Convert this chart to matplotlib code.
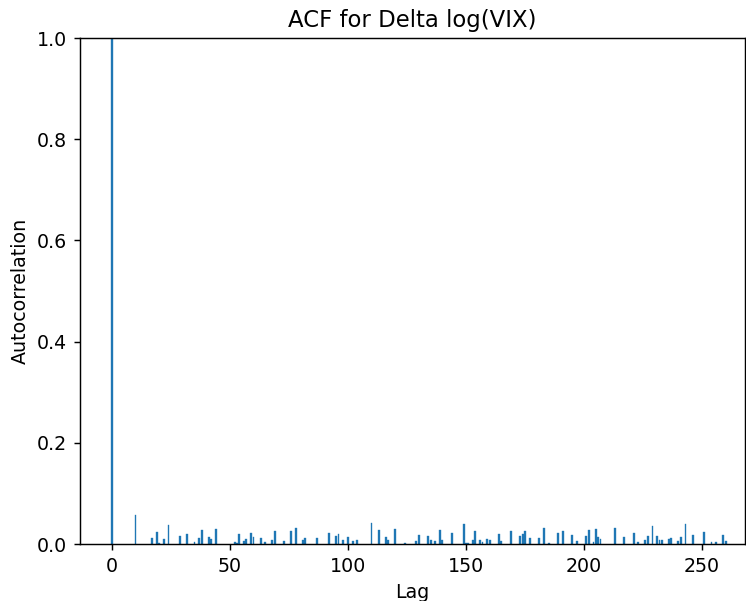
import numpy as np
import matplotlib
matplotlib.use('Agg')
import matplotlib.pyplot as plt

# ACF values (only the positive part is visible, ylim 0..1)
lags = [0, 10, 17, 19, 20, 22, 24, 29, 32, 35, 37, 38, 41, 42, 44,
        52, 53, 54, 56, 57, 59, 60, 63, 65, 68, 69, 73, 76, 78, 81, 82, 87,
        92, 95, 96, 98, 100, 102, 104, 110, 113, 116, 117, 120, 124, 129, 130,
        134, 135, 137, 139, 140, 144, 149, 150, 151, 153, 154, 156, 157, 159,
        160, 164, 165, 169, 173, 174, 175, 177, 181, 183, 185, 189, 191, 195,
        197, 201, 202, 204, 205, 206, 207, 213, 217, 221, 223, 226, 227, 229,
        231, 232, 233, 236, 237, 240, 241, 243, 246, 251, 254, 256, 259, 260]
acf = [1.0, 0.057, 0.012, 0.024, 0.001, 0.010, 0.037, 0.016, 0.019, 0.004,
       0.012, 0.028, 0.014, 0.009, 0.029,
       0.004, 0.002, 0.020, 0.005, 0.009, 0.021, 0.013, 0.011, 0.004, 0.007,
       0.026, 0.005, 0.026, 0.032, 0.007, 0.011, 0.011,
       0.022, 0.016, 0.019, 0.007, 0.013, 0.005, 0.007, 0.041, 0.028, 0.013,
       0.007, 0.029, 0.001, 0.005, 0.018,
       0.016, 0.007, 0.006, 0.028, 0.008, 0.021, 0.039, 0.001, 0.001, 0.008,
       0.026, 0.007, 0.003, 0.009,
       0.008, 0.019, 0.005, 0.026, 0.016, 0.019, 0.026, 0.012, 0.012, 0.032,
       0.002, 0.022, 0.026, 0.017,
       0.005, 0.016, 0.028, 0.003, 0.030, 0.013, 0.009, 0.031, 0.013, 0.021,
       0.004, 0.007, 0.016, 0.035,
       0.016, 0.007, 0.007, 0.009, 0.011, 0.006, 0.013, 0.039, 0.018, 0.024,
       0.004, 0.004, 0.018, 0.005]

plt.rcParams['font.size'] = 10.5
dpi = 130
fig = plt.figure(figsize=(746/dpi, 601/dpi), dpi=dpi)
ax = fig.add_axes([80/746, 57/601, 665/746, 506/601])
ax.bar(lags, acf, width=0.8, color='#1f77b4', edgecolor='#1f77b4', linewidth=0.2)
ax.set_xlim(-13.5, 268.2)
ax.set_ylim(0, 1)
ax.set_xticks([0, 50, 100, 150, 200, 250])
ax.set_yticks([0.0, 0.2, 0.4, 0.6, 0.8, 1.0])
ax.set_title('ACF for Delta log(VIX)')
ax.set_xlabel('Lag')
ax.set_ylabel('Autocorrelation')
plt.savefig('out.png', dpi=dpi)
